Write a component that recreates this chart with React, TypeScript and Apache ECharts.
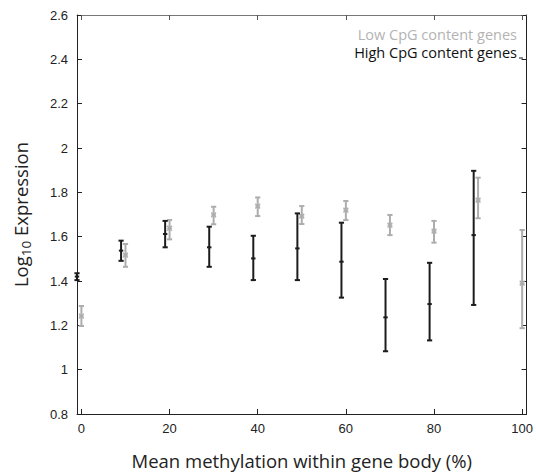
import React, { useEffect, useRef } from "react";
import * as echarts from "echarts";

// Methylation bins (%)
const lowX = [0, 10, 20, 30, 40, 50, 60, 70, 80, 90, 100];
const lowMean = [1.242, 1.517, 1.638, 1.698, 1.738, 1.693, 1.72, 1.652, 1.625, 1.765, 1.39];
const lowLo = [1.197, 1.464, 1.588, 1.656, 1.693, 1.657, 1.675, 1.607, 1.573, 1.683, 1.187];
const lowHi = [1.287, 1.567, 1.675, 1.735, 1.777, 1.738, 1.761, 1.698, 1.671, 1.866, 1.63];

const highX = [-1, 9, 19, 29, 39, 49, 59, 69, 79, 89];
const highMean = [1.42, 1.537, 1.612, 1.552, 1.502, 1.547, 1.487, 1.236, 1.296, 1.607];
const highLo = [1.404, 1.491, 1.552, 1.464, 1.404, 1.404, 1.325, 1.083, 1.132, 1.292];
const highHi = [1.435, 1.582, 1.671, 1.645, 1.604, 1.705, 1.663, 1.409, 1.482, 1.897];

const xTicks = [0, 20, 40, 60, 80, 100];

const GRAY = "#adadad";
const BLACK = "#1c1c1c";
const FONT_SANS = "'Open Sans', 'Noto Sans', sans-serif";
const FONT_TICK = "'Liberation Sans', Arial, sans-serif";

function errorBar(color: string, marker: "dot" | "x") {
  return (params: any, api: any) => {
    const x = api.value(0);
    const m = api.value(1);
    const lo = api.value(2);
    const hi = api.value(3);
    const top = api.coord([x, hi]);
    const bot = api.coord([x, lo]);
    const mid = api.coord([x, m]);
    const cw = 2.6;
    const st = { stroke: color, lineWidth: 2 };
    const children: any[] = [
      { type: "line", shape: { x1: top[0], y1: top[1], x2: bot[0], y2: bot[1] }, style: st },
      { type: "line", shape: { x1: top[0] - cw, y1: top[1], x2: top[0] + cw, y2: top[1] }, style: st },
      { type: "line", shape: { x1: bot[0] - cw, y1: bot[1], x2: bot[0] + cw, y2: bot[1] }, style: st },
    ];
    if (marker === "dot") {
      children.push({
        type: "line",
        shape: { x1: mid[0] - 2.2, y1: mid[1], x2: mid[0] + 2.2, y2: mid[1] },
        style: { stroke: color, lineWidth: 2 },
      });
    } else {
      const s = 2.4;
      children.push(
        { type: "line", shape: { x1: mid[0] - s, y1: mid[1] - s, x2: mid[0] + s, y2: mid[1] + s }, style: { stroke: color, lineWidth: 1.4 } },
        { type: "line", shape: { x1: mid[0] - s, y1: mid[1] + s, x2: mid[0] + s, y2: mid[1] - s }, style: { stroke: color, lineWidth: 1.4 } },
        { type: "line", shape: { x1: mid[0] - s, y1: mid[1], x2: mid[0] + s, y2: mid[1] }, style: { stroke: color, lineWidth: 1.4 } }
      );
    }
    return { type: "group", children };
  };
}

export default function App() {
  const ref = useRef<HTMLDivElement>(null);
  useEffect(() => {
    if (!ref.current) return;
    const chart = echarts.init(ref.current, undefined, { renderer: "svg" });
    const lowData = lowX.map((x, i) => [x, lowMean[i], lowLo[i], lowHi[i]]);
    const highData = highX.map((x, i) => [x, highMean[i], highLo[i], highHi[i]]);
    const axisLine = { show: true, onZero: false, lineStyle: { color: "#222", width: 1 } };
    chart.setOption({
      animation: false,
      backgroundColor: "#fff",
      grid: { left: 77, right: 8, top: 15, bottom: 62, containLabel: false },
      xAxis: [
        {
          type: "value",
          min: -1,
          max: 101,
          position: "bottom",
          splitLine: { show: false },
          axisLine,
          axisTick: { show: true, inside: true, length: 5, lineStyle: { color: "#222" }, customValues: xTicks },
          axisLabel: {
            show: true,
            customValues: xTicks,
            color: "#222",
            fontFamily: FONT_TICK,
            fontSize: 13,
            margin: 8,
            showMinLabel: true,
            showMaxLabel: true,
          },
          name: "Mean methylation within gene body (%)",
          nameLocation: "middle",
          nameGap: 37,
          nameTextStyle: { fontFamily: FONT_SANS, fontSize: 18.5, color: "#222" },
        },
        {
          type: "value",
          min: -1,
          max: 101,
          position: "top",
          splitLine: { show: false },
          axisLine: { show: true, onZero: false, lineStyle: { color: "#777", width: 1 } },
          axisTick: { show: true, inside: true, length: 5, lineStyle: { color: "#555" }, customValues: xTicks },
          axisLabel: { show: false },
        },
      ],
      yAxis: [
        {
          type: "value",
          min: 0.8,
          max: 2.6,
          interval: 0.2,
          position: "left",
          splitLine: { show: false },
          axisLine,
          axisTick: { show: true, inside: true, length: 5, lineStyle: { color: "#222" } },
          axisLabel: {
            color: "#222",
            fontFamily: FONT_TICK,
            fontSize: 13,
            margin: 9,
            formatter: (v: number) => String(Math.round(v * 10) / 10),
          },
          name: "{a|Log}{s|10}{a| Expression}",
          nameLocation: "middle",
          nameGap: 44,
          nameRotate: 90,
          nameTextStyle: {
            rich: {
              a: { fontFamily: FONT_SANS, fontSize: 18.5, color: "#222", lineHeight: 26, verticalAlign: "middle" },
              s: { fontFamily: FONT_SANS, fontSize: 13.5, color: "#222", lineHeight: 26, verticalAlign: "bottom" },
            },
          },
        },
        {
          type: "value",
          min: 0.8,
          max: 2.6,
          interval: 0.2,
          position: "right",
          splitLine: { show: false },
          axisLine,
          axisTick: { show: true, inside: true, length: 5, lineStyle: { color: "#222" } },
          axisLabel: { show: false },
        },
      ],
      series: [
        {
          type: "custom",
          name: "Low CpG content genes",
          xAxisIndex: 0,
          yAxisIndex: 0,
          renderItem: errorBar(GRAY, "x"),
          encode: { x: 0, y: [1, 2, 3] },
          data: lowData,
          z: 2,
        },
        {
          type: "custom",
          name: "High CpG content genes",
          xAxisIndex: 0,
          yAxisIndex: 0,
          renderItem: errorBar(BLACK, "dot"),
          encode: { x: 0, y: [1, 2, 3] },
          data: highData,
          z: 3,
        },
      ],
      graphic: [
        {
          type: "text",
          right: 19,
          top: 27,
          style: { text: "Low CpG content genes", fill: "#b3b3b3", font: `14.5px ${FONT_SANS}`, lineHeight: 15 },
        },
        {
          type: "text",
          right: 19,
          top: 45,
          style: { text: "High CpG content genes", fill: "#111", font: `14.5px ${FONT_SANS}`, lineHeight: 15 },
        },
        {
          type: "line",
          shape: { x1: 519, y1: 58, x2: 523, y2: 58 },
          style: { stroke: "#111", lineWidth: 1 },
        },
      ],
    });
    return () => chart.dispose();
  }, []);
  return <div ref={ref} style={{ position: "absolute", left: 0, top: 0, width: 536, height: 476 }} />;
}
